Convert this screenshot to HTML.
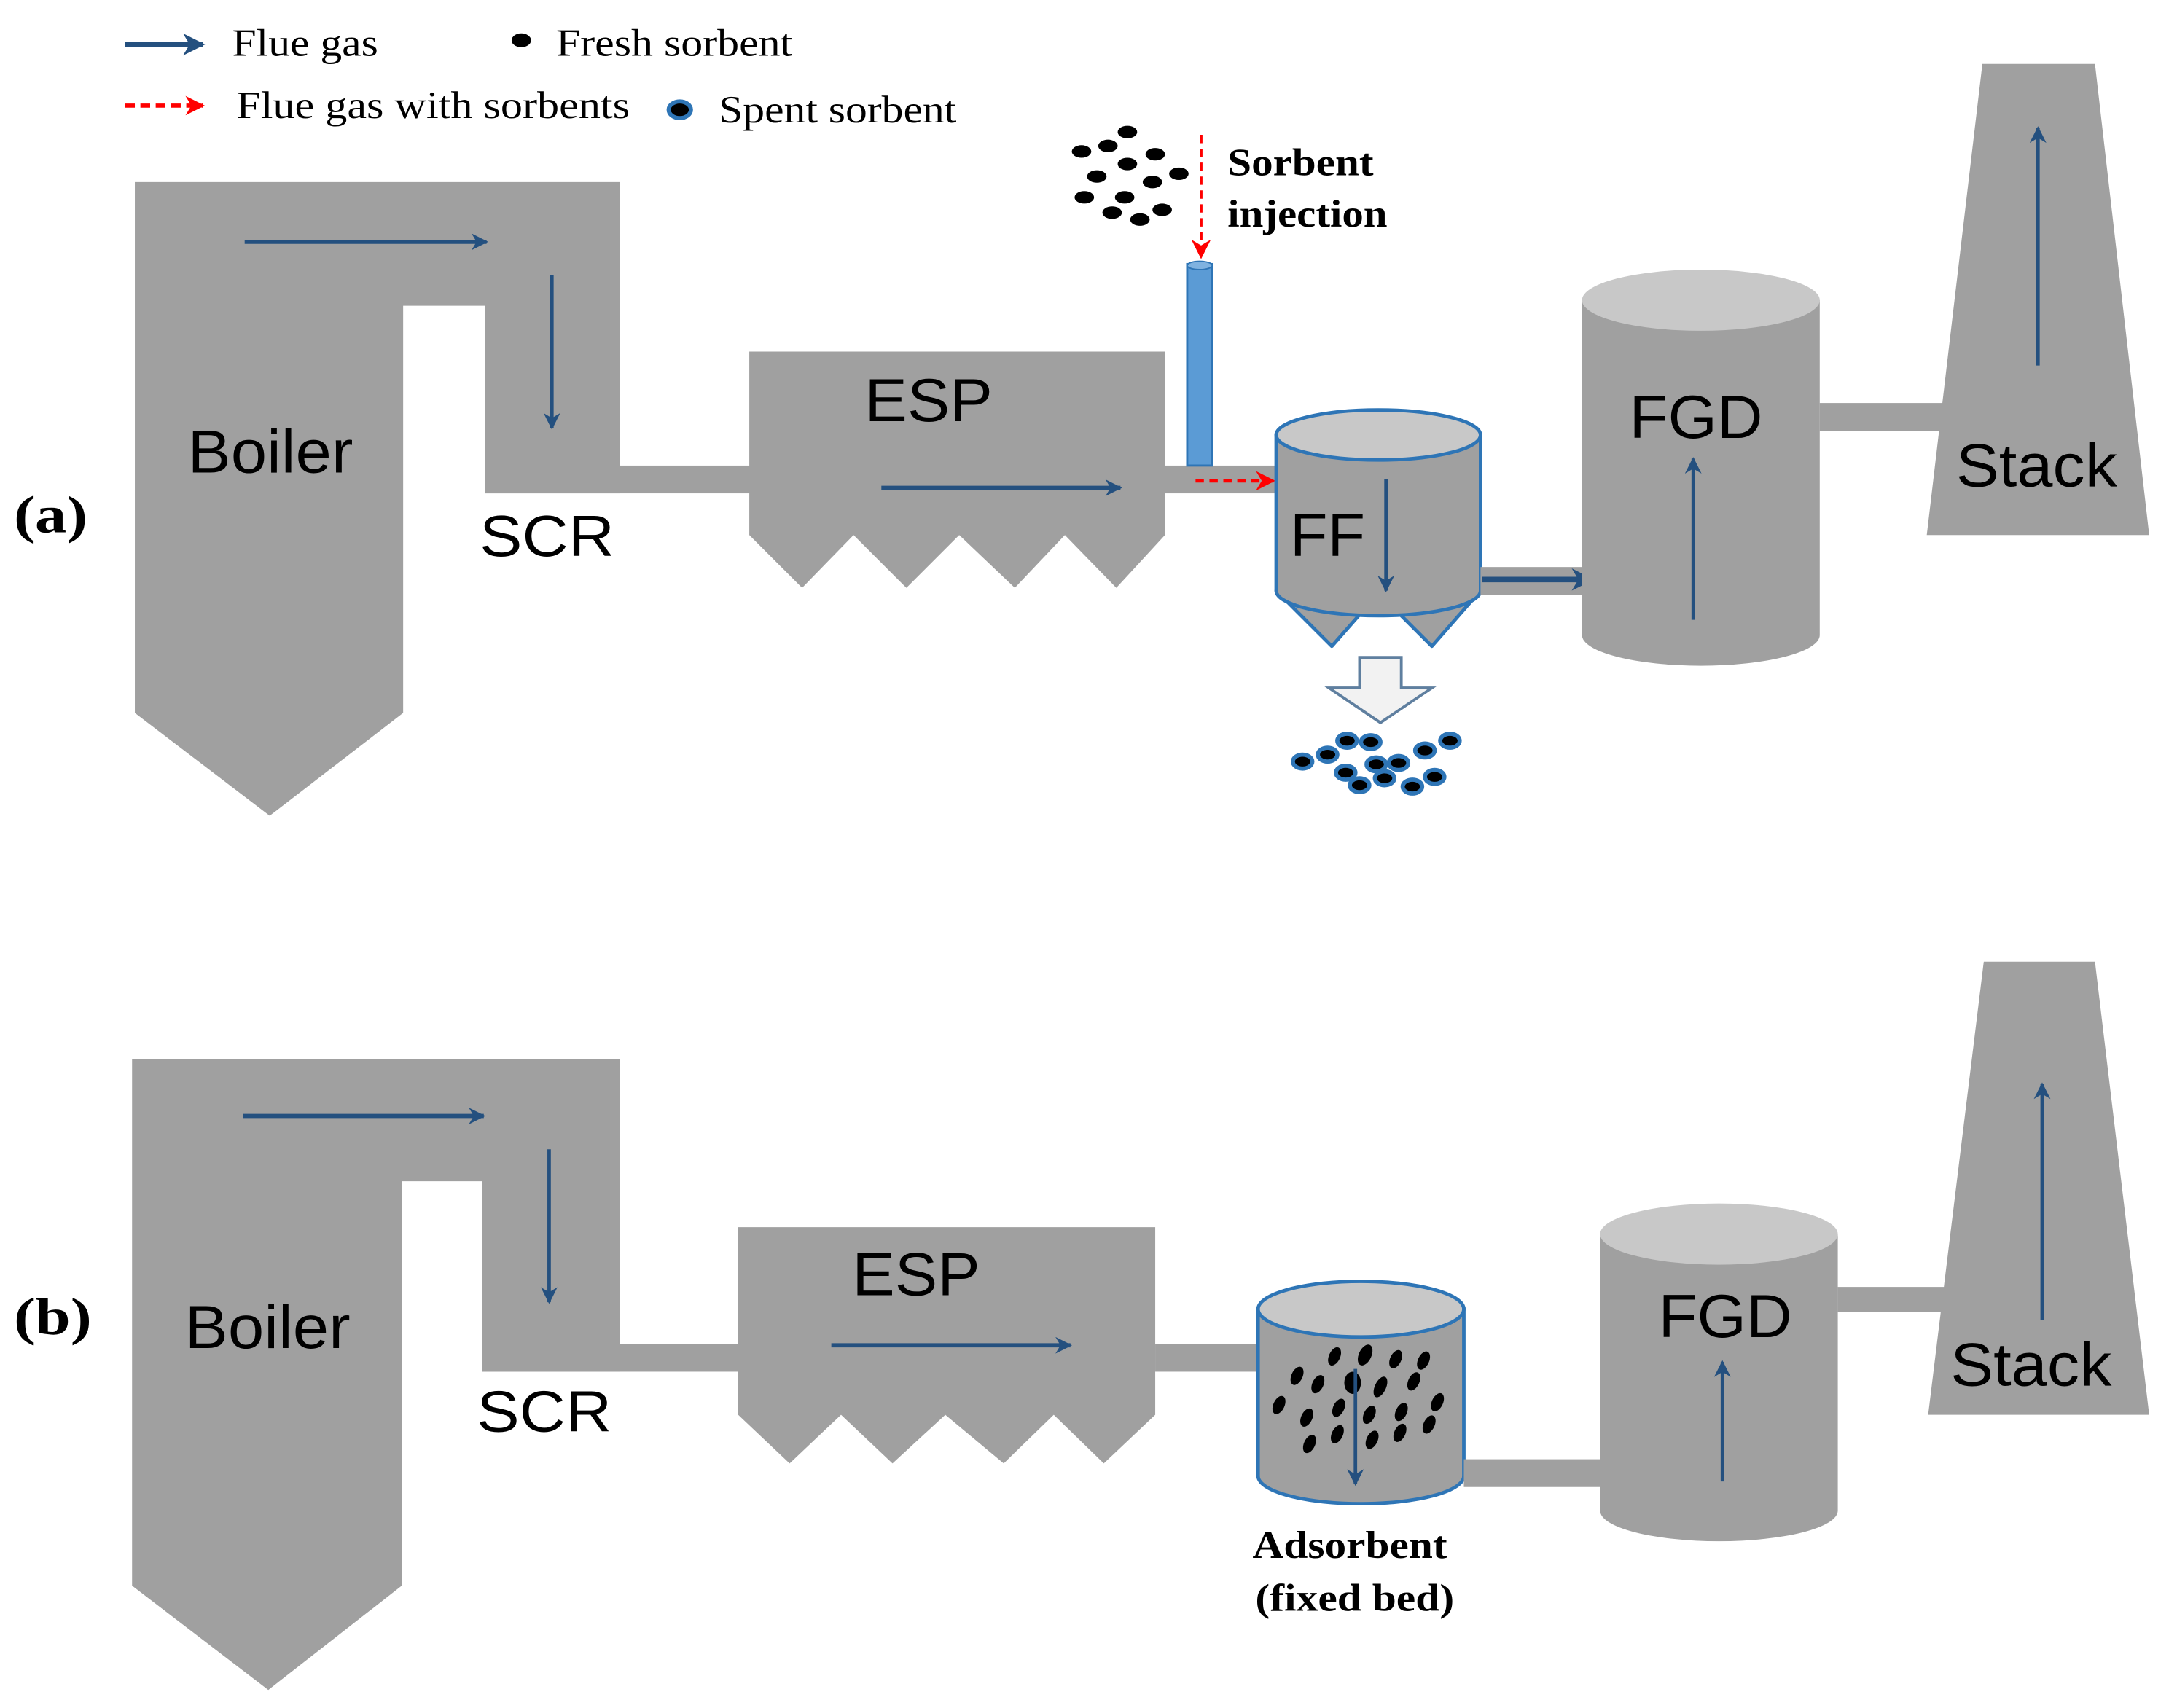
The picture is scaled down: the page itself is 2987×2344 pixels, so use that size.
<!DOCTYPE html>
<html><head><meta charset="utf-8"><style>
html,body{margin:0;padding:0;background:#fff;}
svg{display:block;}
.sa{font-family:"Liberation Sans",Arial,sans-serif;fill:#000;}
.se{font-family:"Liberation Serif","Times New Roman",serif;fill:#000;}
</style></head><body>
<svg width="2987" height="2344" viewBox="0 0 1566 1229" preserveAspectRatio="none" xmlns="http://www.w3.org/2000/svg">
<defs>
<marker id="ab" viewBox="0 0 10 10" refX="9" refY="5" markerWidth="18" markerHeight="12" orient="auto" markerUnits="userSpaceOnUse"><path d="M0,0 L10,5 L0,10 L3,5 Z" fill="#24507f"/></marker>
<marker id="abig" viewBox="0 0 10 10" refX="9" refY="5" markerWidth="18" markerHeight="16" orient="auto" markerUnits="userSpaceOnUse"><path d="M0,0 L10,5 L0,10 L3,5 Z" fill="#24507f"/></marker>
<marker id="ar" viewBox="0 0 10 10" refX="9" refY="5" markerWidth="14" markerHeight="14" orient="auto" markerUnits="userSpaceOnUse"><path d="M0,0 L10,5 L0,10 L3,5 Z" fill="#ff0000"/></marker>
</defs>
<rect width="1566" height="1229" fill="#fff"/>

<!-- Legend -->
<line x1="90" y1="32" x2="146" y2="32" stroke="#24507f" stroke-width="4" marker-end="url(#abig)"/>
<text x="167" y="40" class="se" font-size="28" textLength="105" lengthAdjust="spacingAndGlyphs">Flue gas</text>
<ellipse cx="375" cy="29" rx="7" ry="5" fill="#000"/>
<text x="400" y="40" class="se" font-size="28" textLength="170" lengthAdjust="spacingAndGlyphs">Fresh sorbent</text>
<line x1="90" y1="76" x2="146" y2="76" stroke="#ff0000" stroke-width="3" stroke-dasharray="7,4" marker-end="url(#ar)"/>
<text x="170" y="85" class="se" font-size="28" textLength="283" lengthAdjust="spacingAndGlyphs">Flue gas with sorbents</text>
<ellipse cx="489" cy="79" rx="8" ry="6" fill="#000" stroke="#2e75b6" stroke-width="3"/>
<text x="517" y="88" class="se" font-size="28" textLength="171" lengthAdjust="spacingAndGlyphs">Spent sorbent</text>

<!-- ===== (a) ===== -->
<text x="10" y="383" class="se" font-size="38" font-weight="bold" textLength="53" lengthAdjust="spacingAndGlyphs">(a)</text>
<polygon points="97,131 446,131 446,355 349,355 349,220 290,220 290,513 194,587 97,513" fill="#a0a0a0"/>
<rect x="446" y="335" width="95" height="20" fill="#a0a0a0"/>
<line x1="176" y1="174" x2="350" y2="174" stroke="#24507f" stroke-width="3" marker-end="url(#ab)"/>
<line x1="397" y1="198" x2="397" y2="308" stroke="#24507f" stroke-width="2.5" marker-end="url(#ab)"/>
<text x="135" y="340" class="sa" font-size="44" textLength="119" lengthAdjust="spacingAndGlyphs">Boiler</text>
<text x="345" y="400" class="sa" font-size="42" textLength="97" lengthAdjust="spacingAndGlyphs">SCR</text>

<polygon points="539,253 838,253 838,385 803,423 766,385 730,423 690,385 652,423 614,385 577,423 539,385" fill="#a0a0a0"/>
<text x="622" y="303" class="sa" font-size="44" textLength="92" lengthAdjust="spacingAndGlyphs">ESP</text>
<line x1="634" y1="351" x2="806" y2="351" stroke="#24507f" stroke-width="3" marker-end="url(#ab)"/>

<rect x="838" y="335" width="82" height="20" fill="#a0a0a0"/>
<line x1="860" y1="346" x2="916" y2="346" stroke="#ff0000" stroke-width="2.5" stroke-dasharray="6,4" marker-end="url(#ar)"/>
<rect x="854" y="190" width="18" height="145" fill="#5b9bd5" stroke="#2e75b6" stroke-width="1.5"/>
<ellipse cx="863" cy="191" rx="9" ry="3" fill="#7fb2e0" stroke="#2e75b6" stroke-width="1"/>
<line x1="864" y1="97" x2="864" y2="185" stroke="#ff0000" stroke-width="2" stroke-dasharray="6,4" marker-end="url(#ar)"/>
<g fill="#000">
<ellipse cx="811" cy="95" rx="7" ry="4.5"/><ellipse cx="797" cy="105" rx="7" ry="4.5"/><ellipse cx="778" cy="109" rx="7" ry="4.5"/><ellipse cx="831" cy="111" rx="7" ry="4.5"/>
<ellipse cx="811" cy="118" rx="7" ry="4.5"/><ellipse cx="848" cy="125" rx="7" ry="4.5"/><ellipse cx="789" cy="127" rx="7" ry="4.5"/><ellipse cx="829" cy="131" rx="7" ry="4.5"/>
<ellipse cx="780" cy="142" rx="7" ry="4.5"/><ellipse cx="809" cy="142" rx="7" ry="4.5"/><ellipse cx="800" cy="153" rx="7" ry="4.5"/><ellipse cx="836" cy="151" rx="7" ry="4.5"/><ellipse cx="820" cy="158" rx="7" ry="4.5"/>
</g>
<text x="883" y="126" class="se" font-size="28" font-weight="bold" textLength="105" lengthAdjust="spacingAndGlyphs">Sorbent</text>
<text x="883" y="163" class="se" font-size="28" font-weight="bold" textLength="115" lengthAdjust="spacingAndGlyphs">injection</text>

<!-- FF -->
<polygon points="918,425 958,465 980,440 1005,440 1030,465 1065,425" fill="#a0a0a0" stroke="#2e75b6" stroke-width="2.5" stroke-linejoin="round"/>
<path d="M918,313 L918,425 A73.5,18 0 0 0 1065,425 L1065,313 Z" fill="#a0a0a0" stroke="#2e75b6" stroke-width="2.5"/>
<ellipse cx="991.5" cy="313" rx="73.5" ry="18" fill="#c8c8c8" stroke="#2e75b6" stroke-width="2.5"/>
<text x="928" y="400" class="sa" font-size="44" textLength="54" lengthAdjust="spacingAndGlyphs">FF</text>
<line x1="997" y1="345" x2="997" y2="425" stroke="#24507f" stroke-width="2.5" marker-end="url(#ab)"/>
<rect x="1065" y="408" width="75" height="20" fill="#a0a0a0"/>
<line x1="1066" y1="417" x2="1145" y2="417" stroke="#24507f" stroke-width="4" marker-end="url(#abig)"/>
<polygon points="978,473 1008,473 1008,495 1030,495 993,520 956,495 978,495" fill="#f2f2f2" stroke="#5f7f9f" stroke-width="2"/>
<g fill="#000" stroke="#2e75b6" stroke-width="3">
<ellipse cx="969" cy="533" rx="7" ry="5"/><ellipse cx="986" cy="534" rx="7" ry="5"/><ellipse cx="1043" cy="533" rx="7" ry="5"/><ellipse cx="1025" cy="540" rx="7" ry="5"/>
<ellipse cx="955" cy="543" rx="7" ry="5"/><ellipse cx="937" cy="548" rx="7" ry="5"/><ellipse cx="990" cy="550" rx="7" ry="5"/><ellipse cx="1006" cy="549" rx="7" ry="5"/>
<ellipse cx="968" cy="556" rx="7" ry="5"/><ellipse cx="996" cy="560" rx="7" ry="5"/><ellipse cx="1032" cy="559" rx="7" ry="5"/><ellipse cx="978" cy="565" rx="7" ry="5"/><ellipse cx="1016" cy="566" rx="7" ry="5"/>
</g>

<!-- FGD a -->
<path d="M1138,216 L1138,457 A85.5,22 0 0 0 1309,457 L1309,216 Z" fill="#a0a0a0"/>
<ellipse cx="1223.5" cy="216" rx="85.5" ry="22" fill="#c8c8c8"/>
<text x="1172" y="315" class="sa" font-size="44" textLength="96" lengthAdjust="spacingAndGlyphs">FGD</text>
<line x1="1218" y1="446" x2="1218" y2="330" stroke="#24507f" stroke-width="2.5" marker-end="url(#ab)"/>
<rect x="1309" y="290" width="92" height="20" fill="#a0a0a0"/>
<polygon points="1426,46 1507,46 1546,385 1386,385" fill="#a0a0a0"/>
<line x1="1466" y1="263" x2="1466" y2="92" stroke="#24507f" stroke-width="2.5" marker-end="url(#ab)"/>
<text x="1407" y="350" class="sa" font-size="44" textLength="116" lengthAdjust="spacingAndGlyphs">Stack</text>

<!-- ===== (b) ===== -->
<text x="10" y="960" class="se" font-size="38" font-weight="bold" textLength="56" lengthAdjust="spacingAndGlyphs">(b)</text>
<polygon points="95,762 446,762 446,987 347,987 347,850 289,850 289,1141 193,1216 95,1141" fill="#a0a0a0"/>
<rect x="446" y="967" width="87" height="20" fill="#a0a0a0"/>
<line x1="175" y1="803" x2="348" y2="803" stroke="#24507f" stroke-width="3" marker-end="url(#ab)"/>
<line x1="395" y1="827" x2="395" y2="937" stroke="#24507f" stroke-width="2.5" marker-end="url(#ab)"/>
<text x="133" y="970" class="sa" font-size="44" textLength="119" lengthAdjust="spacingAndGlyphs">Boiler</text>
<text x="343" y="1030" class="sa" font-size="42" textLength="97" lengthAdjust="spacingAndGlyphs">SCR</text>

<polygon points="531,883 831,883 831,1018 794,1053 758,1018 722,1053 680,1018 642,1053 605,1018 568,1053 531,1018" fill="#a0a0a0"/>
<text x="613" y="932" class="sa" font-size="44" textLength="92" lengthAdjust="spacingAndGlyphs">ESP</text>
<line x1="598" y1="968" x2="770" y2="968" stroke="#24507f" stroke-width="3" marker-end="url(#ab)"/>
<rect x="831" y="967" width="76" height="20" fill="#a0a0a0"/>

<path d="M905,942 L905,1062 A74,20 0 0 0 1053,1062 L1053,942 Z" fill="#a0a0a0" stroke="#2e75b6" stroke-width="2.5"/>
<ellipse cx="979" cy="942" rx="74" ry="20" fill="#c8c8c8" stroke="#2e75b6" stroke-width="2.5"/>
<g fill="#000">
<ellipse cx="933" cy="990" rx="4" ry="7" transform="rotate(25 933 990)"/><ellipse cx="960" cy="976" rx="4" ry="7" transform="rotate(25 960 976)"/><ellipse cx="982" cy="975" rx="4.5" ry="8" transform="rotate(25 982 975)"/><ellipse cx="1004" cy="978" rx="4" ry="7" transform="rotate(25 1004 978)"/><ellipse cx="1024" cy="979" rx="4" ry="7" transform="rotate(25 1024 979)"/>
<ellipse cx="948" cy="996" rx="4" ry="7" transform="rotate(25 948 996)"/><ellipse cx="973" cy="995" rx="6" ry="8"/><ellipse cx="993" cy="998" rx="4" ry="8" transform="rotate(25 993 998)"/><ellipse cx="1017" cy="994" rx="4" ry="7" transform="rotate(25 1017 994)"/>
<ellipse cx="920" cy="1011" rx="4" ry="7" transform="rotate(25 920 1011)"/><ellipse cx="940" cy="1020" rx="4" ry="7" transform="rotate(25 940 1020)"/><ellipse cx="963" cy="1013" rx="4" ry="7" transform="rotate(25 963 1013)"/><ellipse cx="985" cy="1018" rx="4" ry="7" transform="rotate(25 985 1018)"/><ellipse cx="1008" cy="1016" rx="4" ry="7" transform="rotate(25 1008 1016)"/><ellipse cx="1034" cy="1009" rx="4" ry="7" transform="rotate(25 1034 1009)"/>
<ellipse cx="962" cy="1032" rx="4" ry="7" transform="rotate(25 962 1032)"/><ellipse cx="987" cy="1036" rx="4" ry="7" transform="rotate(25 987 1036)"/><ellipse cx="1007" cy="1031" rx="4" ry="7" transform="rotate(25 1007 1031)"/><ellipse cx="1028" cy="1025" rx="4" ry="7" transform="rotate(25 1028 1025)"/>
<ellipse cx="942" cy="1039" rx="4" ry="7" transform="rotate(25 942 1039)"/>
</g>
<line x1="975" y1="985" x2="975" y2="1068" stroke="#24507f" stroke-width="2.5" marker-end="url(#ab)"/>
<text x="901" y="1121" class="se" font-size="28" font-weight="bold" textLength="140" lengthAdjust="spacingAndGlyphs">Adsorbent</text>
<text x="903" y="1159" class="se" font-size="28" font-weight="bold" textLength="143" lengthAdjust="spacingAndGlyphs">(fixed bed)</text>
<rect x="1053" y="1050" width="100" height="20" fill="#a0a0a0"/>

<path d="M1151,888 L1151,1087 A85.5,22 0 0 0 1322,1087 L1322,888 Z" fill="#a0a0a0"/>
<ellipse cx="1236.5" cy="888" rx="85.5" ry="22" fill="#c8c8c8"/>
<text x="1193" y="962" class="sa" font-size="44" textLength="96" lengthAdjust="spacingAndGlyphs">FGD</text>
<line x1="1239" y1="1066" x2="1239" y2="980" stroke="#24507f" stroke-width="2.5" marker-end="url(#ab)"/>
<rect x="1322" y="926" width="79" height="18" fill="#a0a0a0"/>
<polygon points="1427,692 1507,692 1546,1018 1387,1018" fill="#a0a0a0"/>
<line x1="1469" y1="950" x2="1469" y2="780" stroke="#24507f" stroke-width="2.5" marker-end="url(#ab)"/>
<text x="1403" y="997" class="sa" font-size="44" textLength="116" lengthAdjust="spacingAndGlyphs">Stack</text>
</svg>
</body></html>
